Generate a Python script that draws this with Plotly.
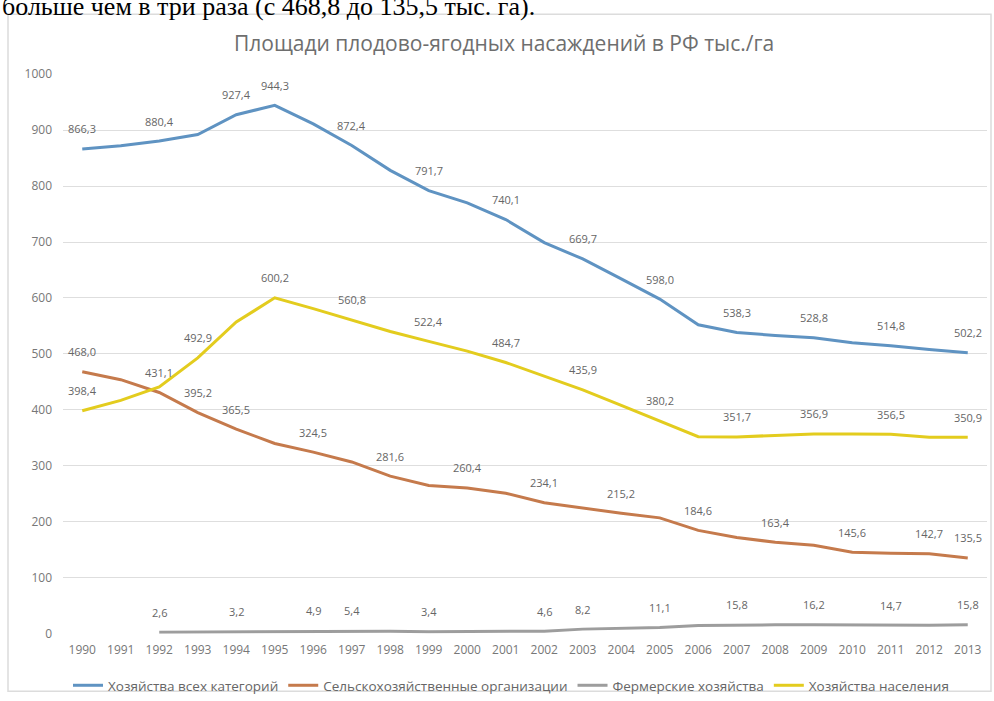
import plotly.graph_objects as go

years = [str(y) for y in range(1990, 2014)]

all_farms = [866.3, 872.0, 880.4, 892.0, 927.4, 944.3, 911.0, 872.4, 828.0, 791.7, 770.0,
             740.1, 699.0, 669.7, 634.0, 598.0, 552.0, 538.3, 533.0, 528.8, 520.0, 514.8, 508.0, 502.2]
agri_orgs = [468.0, 454.0, 431.1, 395.2, 365.5, 340.0, 324.5, 307.0, 281.6, 265.0, 260.4,
             251.0, 234.1, 224.0, 215.2, 207.0, 184.6, 172.0, 163.4, 158.0, 145.6, 144.0, 142.7, 135.5]
farmers = [None, None, 2.6, 2.9, 3.2, 4.0, 4.9, 5.4, 4.4, 3.4, 3.8,
           4.2, 4.6, 8.2, 9.6, 11.1, 14.5, 15.8, 16.0, 16.2, 15.5, 14.7, 15.2, 15.8]
households = [398.4, 417.0, 441.0, 492.9, 557.0, 600.2, 581.0, 560.8, 540.0, 522.4, 505.0,
              484.7, 460.0, 435.9, 408.0, 380.2, 352.0, 351.7, 354.0, 356.9, 357.0, 356.5, 351.0, 350.9]

labels_all = ["1990", "1992", "1994", "1995", "1997", "1999", "2001", "2003", "2005", "2007", "2009", "2011", "2013"]
labels_agri = ["1990", "1992", "1993", "1994", "1996", "1998", "2000", "2002", "2004", "2006", "2008", "2010", "2012", "2013"]
labels_farm = ["1992", "1994", "1996", "1997", "1999", "2002", "2003", "2005", "2007", "2009", "2011", "2013"]
labels_house = ["1990", "1993", "1995", "1997", "1999", "2001", "2003", "2005", "2007", "2009", "2011", "2013"]

series = [
    ("Хозяйства всех категорий", all_farms, "#5f93c2", labels_all),
    ("Сельскохозяйственные организации", agri_orgs, "#c57a4c", labels_agri),
    ("Фермерские хозяйства", farmers, "#9d9d9d", labels_farm),
    ("Хозяйства населения", households, "#e3cc1e", labels_house),
]

FONT = "Open Sans, Noto Sans, sans-serif"
W, H = 994, 701


def px(x):
    return min(1.0, max(0.0, x / W))


def py(y):
    # calibrated so the photographed positions match the reference pixels
    s = (y - 7.7) / 0.9768
    return min(1.0, max(0.0, 1 - s / H))


fig = go.Figure()
annotations = []
for name, vals, color, lab_years in series:
    fig.add_trace(go.Scatter(x=years, y=vals, name=name, mode="lines",
                             line=dict(color=color, width=3), connectgaps=False))
    for yr in lab_years:
        i = years.index(yr)
        v = vals[i]
        annotations.append(dict(x=i, y=v, xref="x", yref="y", text=f"{v:.1f}".replace(".", ","),
                                showarrow=False, yshift=20,
                                font=dict(family=FONT, size=11, color="#666666")))

annotations.append(dict(x=px(504), y=py(42), xref="paper", yref="paper",
                        text="Площади плодово-ягодных насаждений в РФ тыс./га",
                        showarrow=False, xanchor="center", yanchor="middle",
                        font=dict(family=FONT, size=21, color="#6e6e6e")))
annotations.append(dict(x=px(-4), y=py(22), xref="paper", yref="paper",
                        text="больше чем в три раза (с 468,8 до 135,5 тыс. га).",
                        showarrow=False, xanchor="left", yanchor="bottom",
                        font=dict(family="Liberation Serif, Times New Roman, serif", size=26, color="#000000")))

fig.update_layout(
    width=W, height=H,
    margin=dict(l=0, r=0, t=0, b=0),
    paper_bgcolor="white", plot_bgcolor="white",
    showlegend=True,
    legend=dict(orientation="h", x=px(511), xanchor="center", y=py(686), yanchor="middle",
                font=dict(family=FONT, size=13.5, color="#666666"), itemwidth=30,
                bgcolor="rgba(0,0,0,0)"),
    annotations=annotations,
    shapes=[dict(type="rect", xref="paper", yref="paper",
                 x0=px(8), x1=px(991), y0=0.001, y1=py(13),
                 line=dict(color="#dcdcdc", width=1.5), layer="below")],
    xaxis=dict(domain=[px(63), px(987)], type="category", range=[-0.5, 23.5],
               showgrid=False, showline=False, zeroline=False, ticks="",
               ticklabelstandoff=7,
               tickfont=dict(family=FONT, size=12, color="#777777")),
    yaxis=dict(domain=[py(634), py(73)], range=[0, 1000], dtick=100,
               showgrid=True, gridcolor="#dedede", gridwidth=1, zeroline=False, showline=False,
               ticks="", ticklabelstandoff=10,
               tickfont=dict(family=FONT, size=12, color="#777777")),
    hovermode=False,
)

fig.write_html("out.html", config={"displayModeBar": False},
               post_script="document.body.style.margin='0';document.body.style.overflow='hidden';")
